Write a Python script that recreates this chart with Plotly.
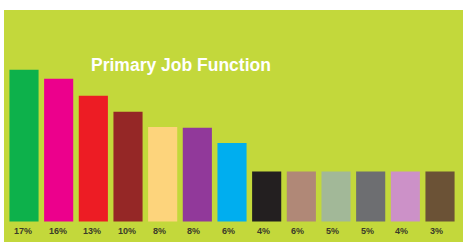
import plotly.graph_objects as go

# Data
categories = ["c1", "c2", "c3", "c4", "c5", "c6", "c7", "c8", "c9", "c10", "c11", "c12", "c13"]
bar_heights = [17, 16, 14.1, 12.3, 10.6, 10.5, 8.8, 5.6, 5.6, 5.6, 5.6, 5.6, 5.6]
pct_labels = ["17%", "16%", "13%", "10%", "8%", "8%", "6%", "4%", "6%", "5%", "5%", "4%", "3%"]
bar_colors = ["#0db14b", "#ec008c", "#ed1c24", "#952726", "#fdd47c", "#91399a",
              "#00aeef", "#231f20", "#b08877", "#a2b898", "#6d6e71", "#cc91c8", "#6b5236"]
title_text = "Primary Job Function"

BG = "#c3d83b"

fig = go.Figure()
fig.add_trace(go.Bar(
    x=list(range(len(categories))),
    y=bar_heights,
    marker=dict(color=bar_colors, line=dict(width=0)),
    width=0.84,
    hoverinfo="skip",
))

for i, lab in enumerate(pct_labels):
    fig.add_annotation(
        x=i, y=0, xref="x", yref="y",
        text=f"<b>{lab}</b>", showarrow=False,
        xanchor="left", yanchor="top", xshift=-12, yshift=-3,
        font=dict(family="Liberation Sans, Arial, sans-serif", size=9, color="#3b3b2a"),
    )

fig.add_annotation(
    x=0.185, y=0.763, xref="paper", yref="paper",
    text=f"<b>{title_text}</b>", showarrow=False,
    xanchor="left", yanchor="middle",
    font=dict(family="Liberation Sans, Arial, sans-serif", size=17.5, color="#ffffff"),
)

fig.update_layout(
    width=469, height=248,
    margin=dict(l=4, r=6, t=10, b=6),
    paper_bgcolor="#ffffff",
    plot_bgcolor=BG,
    showlegend=False,
    xaxis=dict(range=[-0.577, 12.663], visible=False, fixedrange=True),
    yaxis=dict(range=[-2.3, 23.71], visible=False, fixedrange=True),
)

fig.write_html("out.html", config={"displayModeBar": False},
               post_script="document.body.style.margin='0';")
